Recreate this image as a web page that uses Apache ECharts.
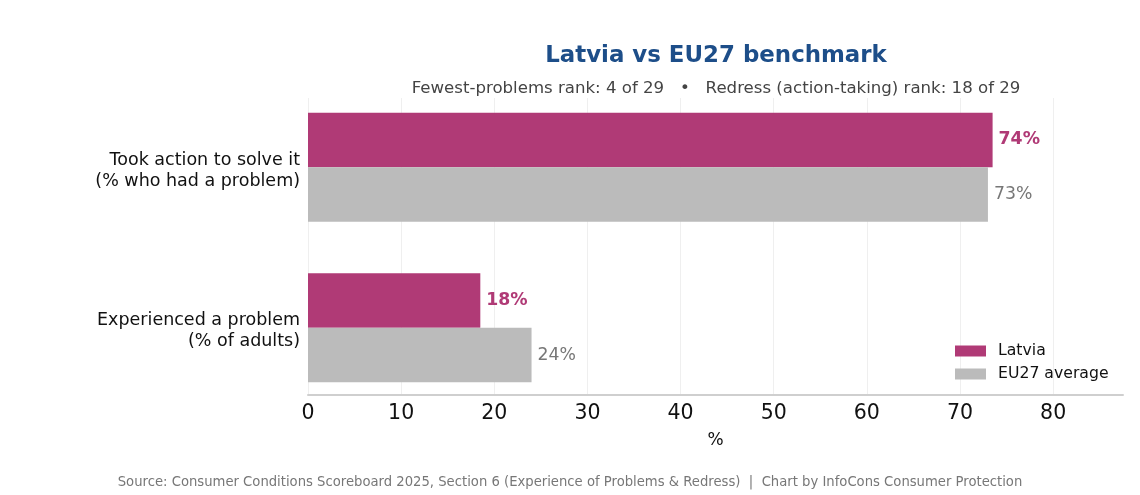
<!DOCTYPE html>
<html>
<head>
<meta charset="utf-8">
<script src="https://cdn.jsdelivr.net/npm/echarts@6/dist/echarts.min.js"></script>
<style>
html,body{margin:0;padding:0;background:#fff;}
#chart{width:1140px;height:495px;}
</style>
</head>
<body>
<div id="chart"></div>
<script>
const categories = ["Experienced a problem\n(% of adults)", "Took action to solve it\n(% who had a problem)"];
const latviaValues = [18.5, 73.5];
const euValues = [24, 73];
const latviaLabels = ["18%", "74%"];
const euLabels = ["24%", "73%"];
const xTicks = [0, 10, 20, 30, 40, 50, 60, 70, 80];
const seriesNames = ["Latvia", "EU27 average"];
const titleText = "Latvia vs EU27 benchmark";
const subtitleText = "Fewest-problems rank: 4 of 29   \u2022   Redress (action-taking) rank: 18 of 29";
const footerText = "Source: Consumer Conditions Scoreboard 2025, Section 6 (Experience of Problems & Redress)  |  Chart by InfoCons Consumer Protection";

const FONT = "'DejaVu Sans', DejaVuSans, sans-serif";
const chart = echarts.init(document.getElementById('chart'), null, {renderer: 'canvas'});

const option = {
  backgroundColor: '#ffffff',
  animation: false,
  textStyle: {fontFamily: FONT},
  title: [
    {text: titleText, left: 711, top: 40, textAlign: 'center',
     textStyle: {fontFamily: FONT, fontSize: 22.9, fontWeight: 'bold', color: '#1d4e89'}},
    {text: subtitleText, left: 711, top: 75, textAlign: 'center',
     textStyle: {fontFamily: FONT, fontSize: 16.6, fontWeight: 'normal', color: '#444444'}},
    {text: footerText, left: 565, top: 471, textAlign: 'center',
     textStyle: {fontFamily: FONT, fontSize: 13.2, fontWeight: 'normal', color: '#777777'}}
  ],
  legend: {
    orient: 'vertical',
    left: 950, top: 338,
    data: seriesNames,
    icon: 'rect',
    itemWidth: 31, itemHeight: 11, itemGap: 7,
    textStyle: {fontFamily: FONT, fontSize: 15.7, color: '#111111', padding: [0, 0, 0, 7]}
  },
  grid: [
    {left: 308, right: 17, top: 98, height: 297, containLabel: false},
    {left: 308, right: 17, top: 87, height: 321, containLabel: false},
    {left: 308, right: 17, top: 90.5, height: 321, containLabel: false}
  ],
  xAxis: [
    {gridIndex: 0, type: 'value', min: 0, max: 87.5, interval: 10,
     axisLine: {show: true, lineStyle: {color: '#cfcfcf', width: 2}},
     axisTick: {show: false},
     splitLine: {show: false},
     axisLabel: {showMaxLabel: false, fontFamily: FONT, fontSize: 20.5, color: '#111111', margin: 8},
     name: '%', nameLocation: 'middle', nameGap: 37,
     nameTextStyle: {fontFamily: FONT, fontSize: 17, color: '#111111'}},
    {gridIndex: 1, type: 'value', min: 0, max: 87.5, show: false},
    {gridIndex: 2, type: 'value', min: 0, max: 87.5, show: false}
  ],
  yAxis: [
    {gridIndex: 0, type: 'value', min: 0, max: 1, show: false},
    {gridIndex: 1, type: 'category', data: categories, show: false},
    {gridIndex: 2, type: 'category', data: categories,
     axisLine: {show: false}, axisTick: {show: false}, splitLine: {show: false},
     axisLabel: {fontFamily: FONT, fontSize: 17.5, lineHeight: 21, color: '#111111', margin: 8, align: 'right'}}
  ],
  series: [
    {type: 'scatter', xAxisIndex: 0, yAxisIndex: 0, data: [], z: 0, silent: true,
     markLine: {silent: true, symbol: 'none', z: 0, label: {show: false},
       lineStyle: {color: '#efefef', width: 1, type: 'solid'},
       data: xTicks.map(v => ({xAxis: v}))}},
    {name: seriesNames[0], type: 'bar', xAxisIndex: 1, yAxisIndex: 1, data: latviaValues,
     barWidth: '34%', barGap: '0%', z: 3,
     itemStyle: {color: '#b03a76'},
     label: {show: true, position: 'right', distance: 6,
       formatter: p => latviaLabels[p.dataIndex],
       fontFamily: FONT, fontSize: 17.3, fontWeight: 'bold', color: '#b03a76'}},
    {name: seriesNames[1], type: 'bar', xAxisIndex: 1, yAxisIndex: 1, data: euValues,
     barWidth: '34%', barGap: '0%', z: 3,
     itemStyle: {color: '#bbbbbb'},
     label: {show: true, position: 'right', distance: 6,
       formatter: p => euLabels[p.dataIndex],
       fontFamily: FONT, fontSize: 17.3, color: '#777777'}}
  ]
};
chart.setOption(option);
</script>
</body>
</html>
